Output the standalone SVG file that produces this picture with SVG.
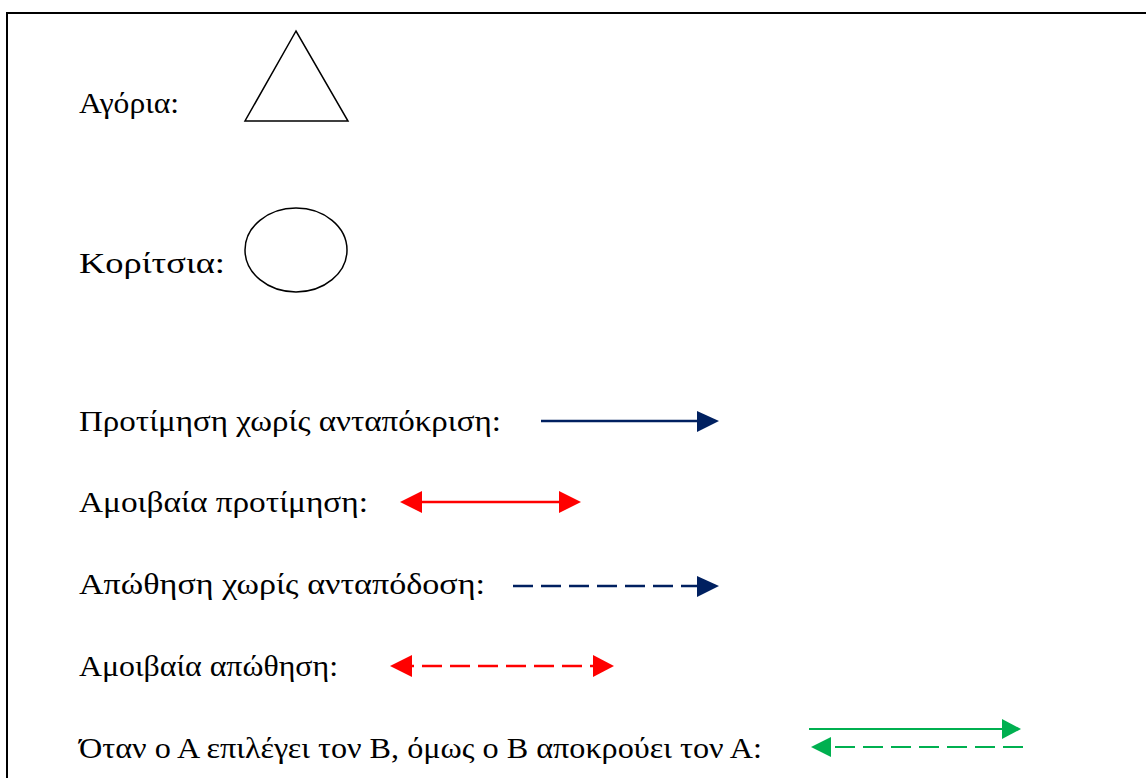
<svg xmlns="http://www.w3.org/2000/svg" width="1146" height="778" viewBox="0 0 1146 778">
<style>
text{font-family:"Liberation Serif","Times New Roman",serif;font-size:30px;fill:#000}
.shape{fill:none;stroke:#000;stroke-width:1.5}
.navy{stroke:#002060;stroke-width:2.5;fill:none}
.red{stroke:#FF0000;stroke-width:2.5;fill:none}
.green{stroke:#00B050;stroke-width:2;fill:none}
.dash{stroke-dasharray:20 8}
</style>
<rect x="0" y="0" width="1146" height="778" fill="#fff"/>
<rect x="7" y="13" width="1160" height="800" fill="none" stroke="#000" stroke-width="2"/>
<g id="boys">
<text x="79" y="113" textLength="100" lengthAdjust="spacingAndGlyphs">Αγόρια:</text>
<polygon class="shape" points="296,31 245,121 348,121"/>
</g>
<g id="girls">
<text x="79" y="273" textLength="146" lengthAdjust="spacingAndGlyphs">Κορίτσια:</text>
<ellipse class="shape" cx="296" cy="250" rx="51" ry="42"/>
</g>
<g id="legend-labels">
<text x="79" y="431" textLength="422" lengthAdjust="spacingAndGlyphs">Προτίμηση χωρίς ανταπόκριση:</text>
<text x="79" y="512" textLength="289" lengthAdjust="spacingAndGlyphs">Αμοιβαία προτίμηση:</text>
<text x="79" y="594" textLength="406" lengthAdjust="spacingAndGlyphs">Απώθηση χωρίς ανταπόδοση:</text>
<text x="79" y="676" textLength="259" lengthAdjust="spacingAndGlyphs">Αμοιβαία απώθηση:</text>
<text x="79" y="758" textLength="683" lengthAdjust="spacingAndGlyphs">Όταν ο Α επιλέγει τον Β, όμως ο Β αποκρούει τον Α:</text>
</g>
<g id="connectors">
<line class="navy" x1="541" y1="421" x2="698" y2="421"/>
<polygon fill="#002060" points="697,411 719,421 697,432"/>
<line class="red" x1="420" y1="502" x2="561" y2="502"/>
<polygon fill="#FF0000" points="422,491 400,502 422,513"/>
<polygon fill="#FF0000" points="559,491 581,502 559,513"/>
<line class="navy dash" x1="513" y1="586" x2="698" y2="586"/>
<polygon fill="#002060" points="697,576 719,586 697,597"/>
<line class="red dash" x1="412" y1="666" x2="594" y2="666" stroke-dashoffset="-10"/>
<polygon fill="#FF0000" points="412,655 390,666 412,677"/>
<polygon fill="#FF0000" points="593,655 614,666 593,677"/>
<line class="green" x1="809" y1="729" x2="1003" y2="729"/>
<polygon fill="#00B050" points="1002,719 1021,729 1002,739"/>
<line class="green dash" x1="1023" y1="747" x2="830" y2="747" stroke-dasharray="13 8"/>
<polygon fill="#00B050" points="831,737 811,747 831,757"/>
</g>
</svg>
